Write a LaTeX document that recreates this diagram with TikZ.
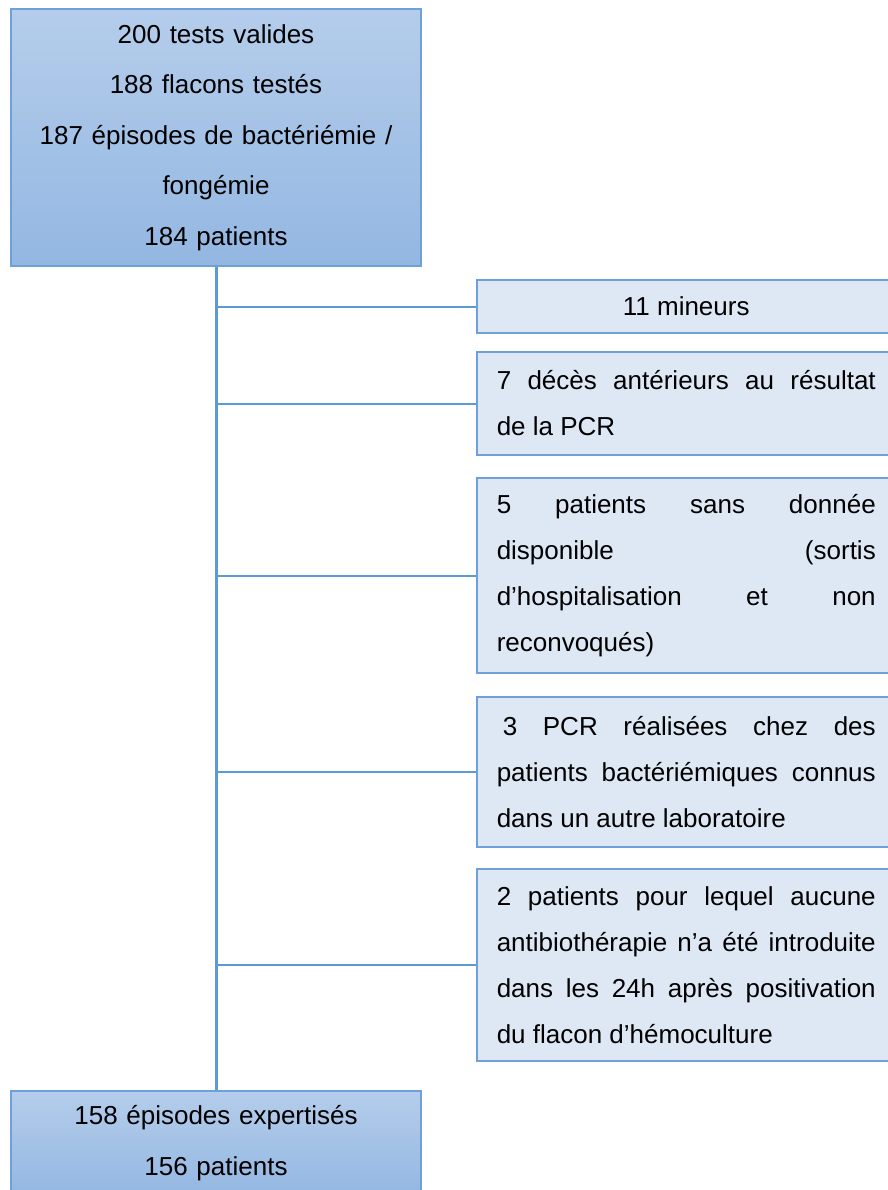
\documentclass[tikz,border=0pt]{standalone}
\usepackage{fontspec}
\setmainfont{Liberation Sans}
\usetikzlibrary{positioning}
\definecolor{boxline}{HTML}{6FA0D8}
\definecolor{spine}{HTML}{5B9BD5}
\definecolor{sidefill}{HTML}{DEE8F5}
\definecolor{maintop}{HTML}{B5CDEB}
\definecolor{mainbottom}{HTML}{93B7E2}
\tikzset{mainbox/.style = {draw=boxline, line width=1.5pt, top color=maintop, bottom color=mainbottom, text width=390pt, inner xsep=10pt, align=center, font=\fontsize{26}{50.5}\selectfont}}
\tikzset{sidebox/.style = {draw=boxline, line width=1.5pt, fill=sidefill, anchor=west, text width=379pt, inner xsep=20pt, align=justify, font=\fontsize{26}{46}\selectfont}}
\tikzset{spineline/.style = {draw=spine, line width=3pt}}
\tikzset{branch/.style = {draw=spine, line width=2pt}}

\begin{document}
\begin{tikzpicture}[x=1pt, y=-1pt]
  \useasboundingbox (0,0) rectangle (887,1190);

  \node [mainbox, minimum height=257pt] (start) at (216,137.5) {200 tests valides\\188 flacons testés\\187 épisodes de bactériémie /\\fongémie\\184 patients};
  \node [mainbox, minimum height=104pt] (final) at (216,1143) {158 épisodes expertisés\\156 patients};

  \draw [spineline] (start.south) -- (final.north);

  \node [sidebox, minimum height=53pt] (minors) at (476,306.5) {\centering 11 mineurs\par};
  \node [sidebox, minimum height=103pt] (deaths) at (476,403.5) {7 décès antérieurs au résultat\linebreak de la PCR};
  \node [sidebox, minimum height=195pt] (nodata) at (476,575.5) {5 patients sans donnée\linebreak disponible (sortis\linebreak d’hospitalisation et non\linebreak reconvoqués)};
  \node [sidebox, minimum height=150pt] (known) at (476,772) {\hspace*{6pt}3 PCR réalisées chez des\linebreak patients bactériémiques connus\linebreak dans un autre laboratoire};
  \node [sidebox, minimum height=192pt] (noatb) at (476,965) {2 patients pour lequel aucune\linebreak antibiothérapie n’a été introduite\linebreak dans les 24h après positivation\linebreak du flacon d’hémoculture};

  \draw [branch] (start.south |- minors.west) -- (minors.west);
  \draw [branch] (start.south |- deaths.west) -- (deaths.west);
  \draw [branch] (start.south |- nodata.west) -- (nodata.west);
  \draw [branch] (start.south |- known.west) -- (known.west);
  \draw [branch] (start.south |- noatb.west) -- (noatb.west);
\end{tikzpicture}
\end{document}
